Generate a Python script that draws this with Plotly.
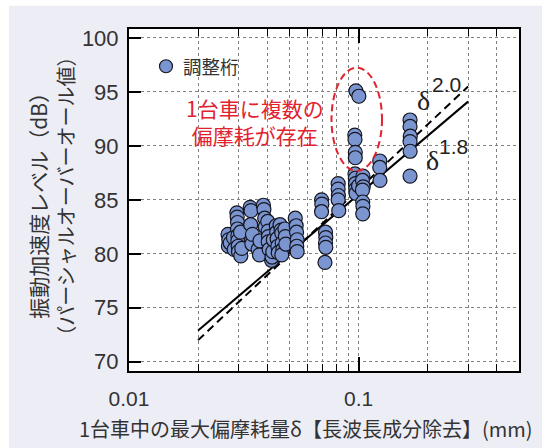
import plotly.graph_objects as go

# 調整桁: 1台車中の最大偏摩耗量 δ (mm) と振動加速度レベル (dB)
DELTA_MM = [
    0.0270, 0.0272, 0.0271, 0.0276, 0.0285, 0.0287,
    0.0295, 0.0296, 0.0297, 0.0297, 0.0298, 0.0298, 0.0299, 0.0300,
    0.0307, 0.0306, 0.0310,
    0.0337, 0.0340, 0.0339, 0.0342, 0.0343, 0.0345,
    0.0365, 0.0370, 0.0372,
    0.0385, 0.0387, 0.0390, 0.0392,
    0.0402, 0.0404, 0.0405, 0.0404, 0.0408,
    0.0418, 0.0420, 0.0423, 0.0425,
    0.0438, 0.0440, 0.0442, 0.0445, 0.0447,
    0.0455, 0.0460, 0.0463, 0.0465, 0.0468, 0.0463,
    0.0478, 0.0480, 0.0482,
    0.0530, 0.0535, 0.0537, 0.0540, 0.0538, 0.0540,
    0.0690, 0.0692, 0.0690,
    0.0718, 0.0720, 0.0718, 0.0720, 0.0714,
    0.0815, 0.0815, 0.0817, 0.0815, 0.0820,
    0.0965, 0.0968, 0.0970, 0.0972, 0.0975, 0.1000,
    0.1045, 0.1040, 0.1048, 0.1040, 0.1043, 0.1045, 0.1043,
    0.0974, 0.1003, 0.0963, 0.0965, 0.0968, 0.0968,
    0.1237, 0.1237, 0.1240,
    0.1676, 0.1676, 0.1680, 0.1676, 0.1678, 0.1676,
]
LEVEL_DB = [
    81.8, 81.3, 80.7, 81.0, 81.5, 80.4,
    83.8, 83.4, 82.9, 82.3, 81.7, 81.2, 80.7, 80.2,
    79.8, 82.0, 80.5,
    84.3, 84.0, 82.7, 81.3, 80.9, 81.8,
    80.4, 79.9, 81.2,
    84.5, 84.1, 83.3, 82.5,
    83.0, 82.1, 81.6, 81.1, 80.4,
    79.4, 79.7, 80.2, 81.3,
    82.6, 82.0, 81.4, 80.7, 80.1,
    82.7, 82.2, 81.9, 81.0, 80.4, 79.9,
    82.3, 81.6, 80.9,
    83.3, 82.6, 82.0, 81.3, 80.7, 80.2,
    85.0, 84.6, 83.9,
    82.0, 81.5, 81.0, 80.6, 79.2,
    86.5, 86.0, 85.4, 85.0, 84.0,
    87.4, 87.0, 86.5, 86.0, 85.6, 86.3,
    87.2, 86.8, 86.2, 85.9, 84.8, 84.4, 83.7,
    95.1, 94.6, 91.0, 90.6, 89.4, 88.9,
    88.6, 88.0, 86.8,
    92.4, 91.8, 90.9, 90.4, 89.5, 87.2,
]

# 近似線 (δ^1.8: 実線, δ^2.0: 破線) の両端
FIT_DELTA = [0.02, 0.3]
FIT_18_DB = [72.9, 94.1]
FIT_20_DB = [72.0, 95.5]

Y_TICKS = [70, 75, 80, 85, 90, 95, 100]
X_TICKS = [0.01, 0.1]
X_TICK_TEXT = ["0.01", "0.1"]
X_MINOR = [0.02, 0.03, 0.04, 0.05, 0.06, 0.07, 0.08, 0.09, 0.2, 0.3, 0.4]

JP = "Noto Sans CJK JP"
NUM = "Liberation Sans"
TXT = "#333333"
RED = "#e2232f"
DOT_FILL = "#7a95cf"

fig = go.Figure()

fig.add_trace(go.Scatter(
    x=FIT_DELTA, y=FIT_20_DB, mode="lines",
    line=dict(color="black", width=2, dash="8px,5px"),
    showlegend=False, hoverinfo="skip",
))
fig.add_trace(go.Scatter(
    x=FIT_DELTA, y=FIT_18_DB, mode="lines",
    line=dict(color="black", width=2),
    showlegend=False, hoverinfo="skip",
))
fig.add_trace(go.Scatter(
    x=DELTA_MM, y=LEVEL_DB, mode="markers", name="調整桁",
    marker=dict(size=14, color=DOT_FILL, line=dict(color="#15151f", width=1.2)),
    showlegend=False,
))

# pixel helpers for the decorations (plot area: x 129..519, y 29.3..371)
L, R, T, B = 129.0, 519.0, 29.3, 371.0
def px(v):
    return (v - L) / (R - L)
def py(v):
    return (B - v) / (B - T)

shapes = [
    # white edge strips around the lavender panel
    dict(type="rect", xref="paper", yref="paper", x0=px(0), x1=px(9), y0=py(448), y1=py(0),
         fillcolor="white", line=dict(width=0), layer="below"),
    dict(type="rect", xref="paper", yref="paper", x0=px(0), x1=px(542), y0=py(6), y1=py(0),
         fillcolor="white", line=dict(width=0), layer="below"),
    # dashed red ellipse
    dict(type="circle", xref="paper", yref="paper", x0=px(331.5), x1=px(382),
         y0=py(171), y1=py(68), line=dict(color=RED, width=2, dash="7px,4px")),
    # legend symbol
    dict(type="circle", xref="paper", yref="paper", x0=px(166 - 6.5), x1=px(166 + 6.5),
         y0=py(66.5 + 6.5), y1=py(66.5 - 6.5), fillcolor=DOT_FILL,
         line=dict(color="#15151f", width=1.2)),
]

annotations = [
    dict(text="調整桁", x=px(181), y=py(66.5), xanchor="left", yanchor="middle",
         font=dict(family=JP, size=18.5, color=TXT)),
    dict(text="1台車に複数の<br>偏摩耗が存在", x=px(255), y=py(121.5), xanchor="center",
         yanchor="middle", font=dict(family=JP, size=21, color=RED)),
    dict(text="δ", x=px(423), y=py(101), xanchor="center", yanchor="middle",
         font=dict(family="Liberation Serif", size=28, color="#222222")),
    dict(text="2.0", x=px(446), y=py(85), xanchor="center", yanchor="middle",
         font=dict(family=NUM, size=21, color="#222222")),
    dict(text="δ", x=px(432), y=py(161), xanchor="center", yanchor="middle",
         font=dict(family="Liberation Serif", size=28, color="#222222")),
    dict(text="1.8", x=px(453), y=py(146.7), xanchor="center", yanchor="middle",
         font=dict(family=NUM, size=21, color="#222222")),
    # axis titles
    dict(text="1台車中の最大偏摩耗量δ【長波長成分除去】(mm)", x=px(306), y=py(428),
         xanchor="center", yanchor="middle", font=dict(family=JP, size=20, color=TXT)),
    dict(text="振動加速度レベル（dB）", x=px(38), y=py(201), textangle=-90,
         xanchor="center", yanchor="middle", font=dict(family=JP, size=21, color=TXT)),
    dict(text="（パーシャルオーバーオール値）", x=px(66), y=py(197), textangle=-90,
         xanchor="center", yanchor="middle", font=dict(family=JP, size=20, color=TXT)),
]
for a in annotations:
    a.update(xref="paper", yref="paper", showarrow=False)

fig.update_layout(
    width=542, height=448,
    margin=dict(l=129, r=23, t=29, b=77),
    paper_bgcolor="#ededf6",
    plot_bgcolor="white",
    shapes=shapes,
    annotations=annotations,
    showlegend=False,
    xaxis=dict(
        type="log", range=[-2, -0.301],
        tickvals=X_TICKS, ticktext=X_TICK_TEXT,
        ticks="inside", ticklen=14, tickwidth=1.5, tickcolor="black",
        showgrid=True, gridcolor="#808080", gridwidth=1, griddash="dot",
        minor=dict(tickvals=X_MINOR, ticks="inside", ticklen=7, tickwidth=1.2,
                   tickcolor="black", showgrid=True, gridcolor="#808080",
                   gridwidth=1, griddash="dot"),
        showline=True, linecolor="black", linewidth=2, mirror="ticks",
        tickfont=dict(family=NUM, size=21, color=TXT),
        ticklabelstandoff=8, zeroline=False,
    ),
    yaxis=dict(
        range=[69.14, 100.83],
        tickvals=Y_TICKS,
        ticks="inside", ticklen=12, tickwidth=1.5, tickcolor="black",
        showgrid=True, gridcolor="#808080", gridwidth=1, griddash="dot",
        showline=True, linecolor="black", linewidth=2, mirror=True,
        tickfont=dict(family=NUM, size=22, color=TXT),
        ticklabelstandoff=4, zeroline=False,
    ),
)

fig.write_html("out.html")
